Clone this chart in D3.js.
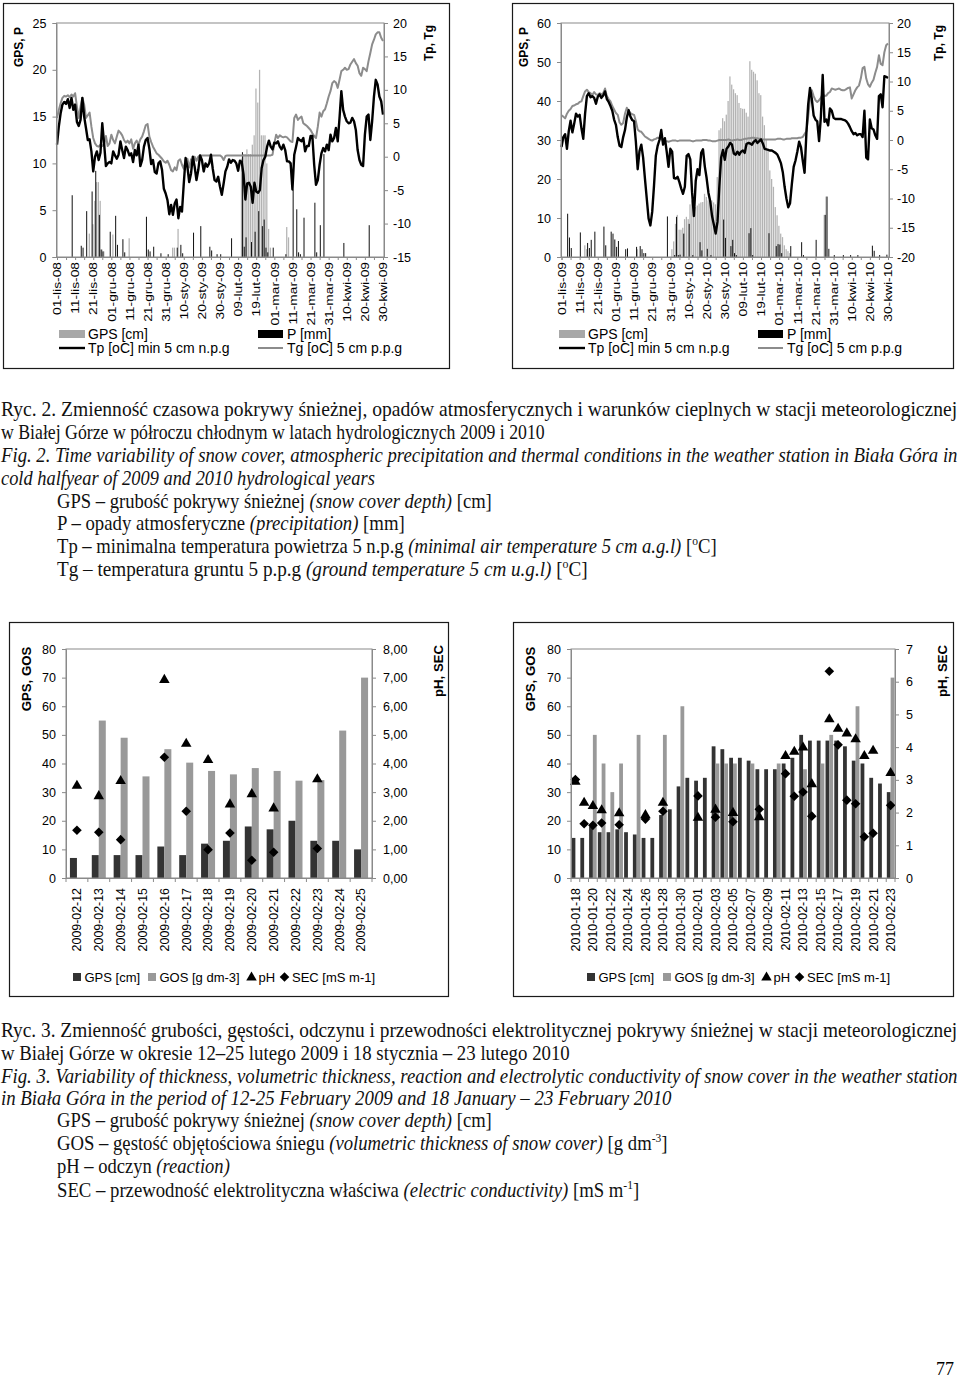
<!DOCTYPE html>
<html><head><meta charset="utf-8">
<script src="https://cdn.jsdelivr.net/npm/d3@7"></script>
<style>body{margin:0;background:#fff}svg{display:block}</style>
</head><body><svg id="page" width="960" height="1378"></svg>
<script>
// ---------------- DATA ----------------
const dateLabels09 = ["01-lis-08","11-lis-08","21-lis-08","01-gru-08","11-gru-08","21-gru-08","31-gru-08","10-sty-09","20-sty-09","30-sty-09","09-lut-09","19-lut-09","01-mar-09","11-mar-09","21-mar-09","31-mar-09","10-kwi-09","20-kwi-09","30-kwi-09"];
const dateLabels10 = ["01-lis-09","11-lis-09","21-lis-09","01-gru-09","11-gru-09","21-gru-09","31-gru-09","10-sty-10","20-sty-10","30-sty-10","09-lut-10","19-lut-10","01-mar-10","11-mar-10","21-mar-10","31-mar-10","10-kwi-10","20-kwi-10","30-kwi-10"];

// daily values, day 0 = 1 November ... day 180 = 30 April
const tp09 = [1.8,4.5,6.5,7.8,8.2,7.9,8.6,7.3,8.8,7.0,
 7.8,5.2,4.6,5.5,8.8,6.0,4.3,2.5,2.6,0.8,
 -2.2,0.0,0.8,-0.5,0.6,5.0,2.0,-1.4,-1.0,-0.8,
 -1.0,0.8,0.2,-0.3,0.3,2.3,1.0,-0.2,1.5,1.0,
 0.2,0.5,-0.8,1.0,0.2,1.8,-1.4,-0.5,1.5,2.5,
 2.8,1.2,-1.1,-0.5,-2.3,-2.5,-1.0,-0.7,-2.0,-4.8,
 -5.5,-6.5,-8.6,-7.2,-8.7,-7.0,-6.4,-9.2,-7.5,-8.2,
 -4.0,-0.2,-1.5,-3.8,-2.5,0.0,-1.5,-3.5,-2.0,0.2,
 -0.5,-2.2,-1.0,-1.5,-1.0,0.3,-1.8,-3.5,-3.7,-3.0,
 -4.5,-5.7,-4.0,-2.2,-1.5,-0.4,-0.9,-0.5,-0.6,-1.0,
 -2.1,-0.6,-0.8,-2.7,-6.4,-4.0,-3.9,-4.5,-6.9,-3.9,
 -5.2,-5.4,-5.0,-1.7,-0.5,0.0,1.5,2.4,1.5,1.1,
 2.1,2.0,2.3,1.5,1.1,1.8,1.0,-0.7,-0.7,-1.0,
 -4.9,0.3,1.5,2.8,2.5,2.3,2.8,0.8,1.6,1.6,
 3.1,3.1,-1.2,-4.2,-3.5,-1.2,0.5,1.3,0.8,1.8,
 1.0,3.3,2.3,2.8,4.3,2.3,5.8,9.8,7.0,6.0,
 5.3,5.0,5.1,5.8,5.3,4.0,1.0,-0.5,-1.2,-1.4,
 3.3,6.0,6.3,2.5,5.3,9.0,11.5,10.8,9.0,8.3,6.3];
const tg09 = [5.8,7.0,8.0,8.8,9.1,9.0,9.2,8.9,9.3,9.0,
 9.5,7.5,5.8,7.5,8.8,7.8,5.8,6.2,6.6,4.5,
 2.8,2.0,1.6,1.5,1.8,1.6,1.9,3.1,1.6,2.0,
 3.3,2.5,2.0,3.0,3.9,3.6,3.2,2.5,2.1,2.4,
 2.0,2.6,1.2,2.0,2.4,1.8,2.6,3.0,3.8,4.7,
 4.9,3.0,2.2,1.5,1.0,0.5,0.3,0.0,-0.3,-0.7,
 -0.9,-0.6,-1.2,-2.0,-2.2,-1.6,-2.0,-0.6,-0.4,-1.2,
 -1.8,-0.5,-0.3,-1.6,-0.4,-1.0,0.0,-0.6,0.0,0.2,
 0.2,0.2,0.2,0.2,0.2,0.2,0.2,0.2,0.2,0.2,
 0.2,0.0,-0.5,0.1,0.2,0.2,0.2,0.2,0.2,0.2,
 0.2,0.2,0.2,0.2,0.2,0.2,0.2,0.2,0.2,0.2,
 0.2,0.2,0.2,0.2,0.2,0.2,0.2,0.2,0.2,0.3,
 2.0,3.3,2.8,3.2,3.0,2.9,3.0,2.9,2.6,2.3,
 2.2,5.8,6.3,5.5,5.8,6.0,5.0,4.8,4.6,4.3,
 4.0,3.5,3.1,2.8,4.5,6.6,6.0,6.8,7.1,8.0,
 9.0,9.8,11.0,11.3,11.1,10.3,11.5,12.8,13.0,13.3,
 13.0,13.1,13.8,14.2,14.6,14.0,13.6,12.5,12.1,13.3,
 13.1,12.8,14.3,15.5,16.8,17.5,18.3,18.6,18.6,17.8,17.3];
// [day, value]
const gps09 = [[18,2.5],[20,3.5],[21,6.0],[22,8.0],[23,8.0],[24,6.0],[25,0.8],[26,0.6],[31,2.4],[40,2.0],[64,1.0],[65,1.0],[67,3.0],
 [102,10.5],[103,11],[104,11],[105,11.5],[106,11],[107,11],[108,12],[109,13],[110,18],[111,16.5],[112,20],[113,13],[114,13],[115,13],[116,10],[117,3],[118,1],[127,3.2],[128,2.1]];
const p09 = [[8,6.6],[13,1.2],[14,1.0],[16,4.9],[19,7.0],[21,9.2],[23,4.5],[24,0.8],[25,0.6],[29,2.7],[32,4.4],[33,1.3],[36,1.9],[37,0.5],[49,4.3],[50,0.8],[51,0.6],[53,1.1],[57,0.4],[61,0.3],[66,1.0],[68,1.3],[69,0.4],[75,2.6],[79,3.3],[84,1.1],[85,0.7],[88,0.3],[90,0.3],[96,2.0],
 [102,11.2],[103,1.1],[104,2.1],[107,1.6],[109,2.7],[111,4.9],[113,3.3],[114,4.0],[115,1.0],[116,0.5],[119,1.0],[126,0.3],[130,7.2],[132,5.1],[133,0.5],[134,0.3],[136,4.2],[142,5.8],[143,0.5],[145,3.4],[147,11.0],[158,1.5],[172,3.4]];

const tp10 = [-1.2,0.5,1.0,-1.5,1.5,3.3,1.3,2.8,4.5,4.0,
 4.3,2.0,0.2,4.5,7.5,8.0,7.3,7.5,7.2,6.2,
 7.4,7.8,7.2,7.6,8.3,7.0,6.5,5.8,5.0,3.5,
 2.6,0.5,-1.0,-1.2,0.5,1.7,3.8,5.1,4.0,3.4,
 3.2,-0.3,-5.0,-1.9,-0.8,-3.0,-6.6,-10.0,-13.4,-14.6,
 -12.3,-7.8,-2.7,-1.0,0.0,1.7,-0.8,0.3,-2.0,-4.6,
 -1.5,-2.0,-6.5,-6.6,-6.3,-7.2,-8.3,-9.2,-8.0,-2.7,
 -2.4,-3.3,-9.0,-13.0,-7.0,-5.0,-6.0,-2.2,-1.6,-4.5,
 -6.5,-9.0,-10.5,-13.0,-14.5,-16.0,-14.0,-8.0,-3.0,-1.7,
 -3.4,-1.5,-1.1,-0.5,-0.8,-2.3,-2.5,-2.0,-2.5,-2.0,
 -1.8,-2.2,-0.7,-0.5,-0.6,-0.8,-0.3,0.0,-0.5,-0.2,
 0.1,-0.6,-1.5,-1.6,-1.7,-1.8,-1.8,-2.0,-2.2,-2.5,
 -3.2,-4.0,-5.5,-8.0,-10.0,-11.5,-10.8,-7.5,-4.6,-3.5,
 -2.0,-0.3,-1.2,-3.5,-5.6,1.1,6.1,8.9,7.0,4.2,
 3.5,3.2,-0.2,4.0,11.1,3.1,3.5,2.5,5.4,5.0,
 3.8,3.6,3.6,3.6,3.6,3.5,3.4,3.2,2.8,2.2,
 1.5,1.0,1.2,0.8,1.0,1.0,0.5,5.0,-3.0,-3.3,
 3.5,2.0,1.8,0.8,0.2,7.5,7.8,5.6,10.9,10.8,10.6];
const tg10 = [4.2,4.0,3.7,4.5,5.0,5.3,5.8,5.9,6.1,6.2,
 6.5,6.6,7.5,8.3,8.6,8.2,8.0,7.7,8.2,7.8,
 7.7,8.0,7.8,8.0,8.8,7.5,7.0,6.6,5.8,5.2,
 4.6,4.3,3.0,2.6,2.9,4.5,5.5,5.0,4.6,4.4,
 4.3,3.2,1.8,1.5,1.4,1.0,0.6,0.4,0.2,0.0,
 -0.1,0.1,0.2,0.4,0.3,0.1,0.0,-0.2,-0.2,-0.3,
 -0.2,-0.1,-0.1,-0.1,-0.2,-0.1,-0.1,-0.1,-0.1,-0.1,
 -0.1,-0.1,-0.2,-0.2,-0.1,-0.1,-0.1,-0.1,0.0,0.0,
 0.0,-0.1,-0.1,-0.2,-0.2,-0.2,-0.1,0.0,0.0,0.0,
 0.0,0.0,0.1,0.0,-0.1,0.0,0.0,0.1,0.0,0.0,
 0.1,0.2,0.2,0.3,0.3,0.4,0.4,0.3,0.3,0.2,
 0.2,0.1,0.1,0.1,0.1,0.1,0.1,0.1,0.1,0.2,
 0.2,0.2,0.1,0.1,0.2,0.2,0.2,0.3,0.3,0.3,
 0.3,0.4,0.4,0.5,1.0,1.5,4.0,7.0,8.5,7.5,
 6.8,6.5,6.8,7.2,7.9,7.5,7.6,8.0,8.2,8.8,
 8.7,8.6,8.7,8.8,8.6,8.5,8.5,8.7,8.9,9.0,
 7.1,7.8,8.5,9.0,9.3,10.5,12.3,12.5,10.5,9.5,
 9.1,9.8,10.3,11.5,12.5,14.5,13.0,12.8,15.0,16.2,16.5];
const gps10 = [[13,3.0],[14,2.0],[42,2.0],[61,2],[62,4],[63,8.5],[64,10.8],[65,7],[66,7],[67,7.5],[68,9.7],[69,10.3],[70,9.7],[71,13.5],[72,14.5],[73,13.5],[74,12.8],[75,13.2],[76,13.7],[77,14],[78,14.1],[79,16.2],[80,15.4],[81,14.5],[82,15],[83,14.5],[84,14],[85,13.5],[86,20.5],[87,32.5],[88,33],[89,35.6],[90,34.8],[91,36.5],[92,40],[93,46.3],[94,44.2],[95,43],[96,42],[97,41.5],[98,39.5],[99,38.2],[100,38],[101,38],[102,37],[103,36],[104,50.2],[105,48],[106,47.5],[107,47],[108,45.3],[109,42],[110,41.5],[111,36],[112,33.8],[113,30],[114,27.4],[115,22.2],[116,20],[117,18],[118,12.8],[119,10.7],[120,8],[121,6],[122,5.1],[123,3],[124,2],[125,1.5],[126,1],[145,10.8],[146,15.5]];
const p10 = [[3,11.1],[4,5.0],[5,2.3],[10,6.3],[14,3.6],[15,2.3],[16,4.4],[18,6.5],[23,7.8],[24,3.0],[27,6.5],[28,6.0],[29,4.5],[30,2.6],[31,4.1],[35,2.0],[36,2.2],[41,2.6],[43,2.8],[44,2.0],[45,1.0],[46,1.0],[58,10.4],[62,0.5],[63,10.3],[64,0.5],[65,0.6],[67,6.0],[70,8.5],[72,0.5],[76,3.8],[77,1.7],[80,2.1],[82,0.5],[89,9.6],[90,4.9],[93,2.8],[94,4.4],[95,1.0],[96,0.5],[103,6.1],[104,7.4],[105,0.5],[114,6.1],[118,2.8],[119,3.3],[120,3.2],[121,1.0],[126,2.8],[132,3.8],[133,0.5],[140,4.4],[145,10.8],[146,15.5],[147,2.1],[150,0.5],[155,0.5],[159,0.5],[163,0.5],[171,2.9],[172,1.6],[175,0.5],[179,0.6]];

// Fig. 3 data
const cats09 = ["2009-02-12","2009-02-13","2009-02-14","2009-02-15","2009-02-16","2009-02-17","2009-02-18","2009-02-19","2009-02-20","2009-02-21","2009-02-22","2009-02-23","2009-02-24","2009-02-25"];
const gpsA = [7,8,8,8,11,8,12,13,18,17,20,13,13,10];
const gosA = [null,55,49,35.5,45,40.3,37.4,36.2,38.4,37.4,34,34.2,51.5,70];
const phA  = [3.22,2.86,3.39,null,6.92,4.69,4.12,2.57,2.93,2.43,null,3.45,null,null];
const secA = [1.67,1.60,1.34,null,4.22,2.33,0.99,1.57,0.62,0.90,null,1.03,null,null];

const cats10 = ["2010-01-18","2010-01-19","2010-01-20","2010-01-21","2010-01-22","2010-01-23","2010-01-24","2010-01-25","2010-01-26","2010-01-27","2010-01-28","2010-01-29","2010-01-30","2010-01-31",
 "2010-02-01","2010-02-02","2010-02-03","2010-02-04","2010-02-05","2010-02-06","2010-02-07","2010-02-08","2010-02-09","2010-02-10","2010-02-11","2010-02-12","2010-02-13","2010-02-14","2010-02-15","2010-02-16","2010-02-17","2010-02-18","2010-02-19","2010-02-20","2010-02-21","2010-02-22","2010-02-23"];
const gpsB = [14,14,18,16,16,17,16,15.2,14,14,22,24,32,35,34,35,46,45,42,42,41,38,38,38,40,42,50,48,48,48,48,46,41,40,35,33,30];
const gosB = [null,null,50,40,30,40,null,50,null,null,50,null,60,null,null,null,40,40,40,null,40,null,null,40,null,null,38,null,40,50,null,null,60,null,null,null,70];
const phB  = [2.94,2.30,2.20,2.07,null,1.98,null,null,1.92,null,2.30,null,null,null,1.84,null,2.09,null,1.99,null,null,1.86,null,null,3.73,3.86,3.99,2.87,null,4.85,4.56,4.42,4.24,3.73,3.89,null,3.21];
const secB = [3.01,1.66,1.61,1.68,null,1.63,null,null,1.80,null,2.04,null,null,null,2.51,null,1.86,null,1.72,null,null,2.10,null,null,3.19,2.50,2.63,1.89,null,6.32,4.07,2.38,2.27,1.26,1.37,null,2.22];

// ---------------- DRAWING ----------------
const svg = d3.select("#page");
const sans = '"Liberation Sans", Arial, sans-serif';
const serif = '"Liberation Serif", "Times New Roman", serif';
const AX = "#8a8a8a";

function styleAxis(sel, fs){
  sel.select(".domain").attr("stroke", AX);
  sel.selectAll(".tick line").attr("stroke", AX);
  sel.selectAll(".tick text").attr("fill", "#000").style("font-family", sans).style("font-size", fs + "px");
}
function frame(g, f){
  g.append("rect").attr("x", f[0] + 0.5).attr("y", f[1] + 0.5).attr("width", f[2] - f[0]).attr("height", f[3] - f[1])
   .attr("fill", "none").attr("stroke", "#1a1a1a").attr("stroke-width", 1.2);
}
function vtitle(g, txt, x, y, fs){
  g.append("text").attr("transform", `translate(${x},${y}) rotate(-90)`).attr("text-anchor", "middle")
   .style("font-family", sans).style("font-size", fs + "px").style("font-weight", "bold").text(txt);
}
function ltext(g, txt, x, y, fs){
  g.append("text").attr("x", x).attr("y", y).style("font-family", sans).style("font-size", fs + "px").text(txt);
}

function topChart(c){
  const g = svg.append("g");
  frame(g, c.frame);
  const top = 23, bot = 257;
  const x = d3.scaleLinear().domain([0, 180]).range([c.pl + 0.5, c.pr - 1]);
  const yL = d3.scaleLinear().domain(c.leftDom).range([bot, top]);
  const yR = d3.scaleLinear().domain(c.rightDom).range([bot, top]);
  g.append("g").selectAll("rect").data(c.gps).join("rect")
    .attr("x", d => x(d[0]) - 0.9).attr("width", 1.25)
    .attr("y", d => yL(d[1])).attr("height", d => yL(0) - yL(d[1])).attr("fill", "#b3b3b3");
  g.append("g").selectAll("rect").data(c.p).join("rect")
    .attr("x", d => x(d[0]) + 0.2).attr("width", 1.0)
    .attr("y", d => yL(d[1])).attr("height", d => yL(0) - yL(d[1])).attr("fill", "#111");
  const line = d3.line().x((d, i) => x(i)).y(d => yR(d));
  g.append("path").datum(c.tg).attr("d", line).attr("fill", "none").attr("stroke", "#8c8c8c").attr("stroke-width", 2).attr("stroke-linejoin", "round");
  g.append("path").datum(c.tp).attr("d", line).attr("fill", "none").attr("stroke", "#000").attr("stroke-width", 2.4).attr("stroke-linejoin", "round");
  g.append("rect").attr("x", c.pl).attr("y", top).attr("width", c.pr - c.pl).attr("height", bot - top).attr("fill", "none").attr("stroke", AX);
  const la = g.append("g").attr("transform", `translate(${c.pl},0)`)
    .call(d3.axisLeft(yL).tickValues(c.leftTicks).tickSize(4).tickPadding(c.lpad).tickFormat(d => String(d)));
  styleAxis(la, 12.5);
  const ra = g.append("g").attr("transform", `translate(${c.pr},0)`)
    .call(d3.axisRight(yR).tickValues(c.rightTicks).tickSize(4).tickPadding(c.rpad).tickFormat(d => String(d)));
  styleAxis(ra, 12.5);
  const xa = g.append("g").attr("transform", `translate(0,${bot})`)
    .call(d3.axisBottom(x).tickValues(d3.range(0, 181, 5)).tickSize(3).tickFormat(""));
  styleAxis(xa, 12);
  g.append("g").selectAll("text").data(c.labels).join("text")
    .attr("transform", (d, i) => `translate(${x(i * 10) + 4.2},262) rotate(-90) scale(1,0.85)`)
    .attr("text-anchor", "end").style("font-family", sans).style("font-size", "13.8px").text(d => d);
  vtitle(g, "GPS, P", c.ltx + 4.5, 47, 12);
  vtitle(g, "Tp, Tg", c.rtx + 4.5, 43, 12);
  // legend
  g.append("rect").attr("x", c.lg1).attr("y", 330).attr("width", 26).attr("height", 8).attr("fill", "#a8a8a8");
  ltext(g, "GPS [cm]", c.lg1 + 29, 339, 14);
  g.append("rect").attr("x", c.lg2).attr("y", 330).attr("width", 25).attr("height", 8).attr("fill", "#000");
  ltext(g, "P [mm]", c.lg2 + 29, 339, 14);
  g.append("line").attr("x1", c.lg1).attr("x2", c.lg1 + 26).attr("y1", 348).attr("y2", 348).attr("stroke", "#000").attr("stroke-width", 2.4);
  ltext(g, "Tp [oC] min 5 cm n.p.g", c.lg1 + 29, 353, 14);
  g.append("line").attr("x1", c.lg2).attr("x2", c.lg2 + 25).attr("y1", 348).attr("y2", 348).attr("stroke", "#8c8c8c").attr("stroke-width", 2);
  ltext(g, "Tg [oC] 5 cm p.p.g", c.lg2 + 29, 353, 14);
}

function snowChart(c){
  const g = svg.append("g");
  frame(g, c.frame);
  const top = 649, bot = 878;
  const x = d3.scaleBand().domain(c.cats).range([c.pl, c.pr]);
  const bw = x.bandwidth();
  const yL = d3.scaleLinear().domain([0, 80]).range([bot, top]);
  const yR = d3.scaleLinear().domain(c.rightDom).range([bot, top]);
  const cx = d => x(d) + bw / 2;
  const idx = c.cats.map((d, i) => i);
  g.append("g").selectAll("rect").data(idx.filter(i => c.gps[i] != null)).join("rect")
    .attr("x", i => cx(c.cats[i]) - c.barW).attr("width", c.barW)
    .attr("y", i => yL(c.gps[i])).attr("height", i => yL(0) - yL(c.gps[i])).attr("fill", "#333");
  g.append("g").selectAll("rect").data(idx.filter(i => c.gos[i] != null)).join("rect")
    .attr("x", i => cx(c.cats[i])).attr("width", c.barW)
    .attr("y", i => yL(c.gos[i])).attr("height", i => yL(0) - yL(c.gos[i])).attr("fill", "#999");
  g.append("rect").attr("x", c.pl).attr("y", top).attr("width", c.pr - c.pl).attr("height", bot - top).attr("fill", "none").attr("stroke", AX);
  const tri = d3.symbol().type(d3.symbolTriangle).size(48);
  const sq = d3.symbol().type(d3.symbolSquare).size(46);
  g.append("g").selectAll("path").data(idx.filter(i => c.ph[i] != null)).join("path")
    .attr("d", tri).attr("transform", i => `translate(${cx(c.cats[i])},${yR(c.ph[i])})`).attr("fill", "#000");
  g.append("g").selectAll("path").data(idx.filter(i => c.sec[i] != null)).join("path")
    .attr("d", sq).attr("transform", i => `translate(${cx(c.cats[i])},${yR(c.sec[i])}) rotate(45)`).attr("fill", "#000");
  const la = g.append("g").attr("transform", `translate(${c.pl},0)`)
    .call(d3.axisLeft(yL).tickValues(d3.range(0, 81, 10)).tickSize(4).tickPadding(c.lpad).tickFormat(d => String(d)));
  styleAxis(la, 12.5);
  const ra = g.append("g").attr("transform", `translate(${c.pr},0)`)
    .call(d3.axisRight(yR).tickValues(c.rightTicks).tickSize(4).tickPadding(c.rpad).tickFormat(c.rfmt));
  styleAxis(ra, 12.5);
  g.append("line").attr("x1", c.pl).attr("x2", c.pr).attr("y1", bot + 0.5).attr("y2", bot + 0.5).attr("stroke", AX);
  const bounds = c.cats.map(d => x(d)).concat([c.pr]);
  g.append("g").selectAll("line").data(bounds).join("line")
    .attr("x1", d => d).attr("x2", d => d).attr("y1", bot).attr("y2", bot + 4).attr("stroke", AX);
  g.append("g").selectAll("text").data(c.cats.filter((d, i) => i % c.every === 0)).join("text")
    .attr("transform", d => `translate(${cx(d) + 4.4},${bot + 10}) rotate(-90)`)
    .attr("text-anchor", "end").style("font-family", sans).style("font-size", "12.4px").text(d => d);
  vtitle(g, "GPS, GOS", c.ltx + 4.8, 679, 13.2);
  vtitle(g, "pH, SEC", c.rtx + 4.8, 671, 13.2);
  // legend
  const ly = 977;
  const L = c.leg;
  g.append("rect").attr("x", L[0]).attr("y", ly - 4).attr("width", 8).attr("height", 8).attr("fill", "#333");
  ltext(g, "GPS [cm]", L[0] + 11.5, ly + 4.6, 13);
  g.append("rect").attr("x", L[1]).attr("y", ly - 4).attr("width", 8).attr("height", 8).attr("fill", "#999");
  ltext(g, "GOS [g dm-3]", L[1] + 11.5, ly + 4.6, 13);
  g.append("path").attr("d", tri).attr("transform", `translate(${L[2] + 4.5},${ly + 0.5})`).attr("fill", "#000");
  ltext(g, "pH", L[2] + 11.5, ly + 4.6, 13);
  g.append("path").attr("d", sq).attr("transform", `translate(${L[3] + 4.5},${ly}) rotate(45)`).attr("fill", "#000");
  ltext(g, "SEC [mS m-1]", L[3] + 12, ly + 4.6, 13);
}

topChart({frame:[3,3,449,368], pl:56.5, pr:384, leftDom:[0,25], leftTicks:d3.range(0,26,5), rightDom:[-15,20], rightTicks:d3.range(-15,21,5),
  lpad:6, rpad:5, labels:dateLabels09, tp:tp09, tg:tg09, gps:gps09, p:p09, ltx:18, rtx:428, lg1:59, lg2:258});
topChart({frame:[512,3,953,368], pl:561, pr:889, leftDom:[0,60], leftTicks:d3.range(0,61,10), rightDom:[-20,20], rightTicks:d3.range(-20,21,5),
  lpad:6, rpad:4, labels:dateLabels10, tp:tp10, tg:tg10, gps:gps10, p:p10, ltx:523, rtx:938, lg1:559, lg2:758});

snowChart({frame:[9,622,448,996], pl:66, pr:372, cats:cats09, gps:gpsA, gos:gosA, ph:phA, sec:secA, barW:7,
  rightDom:[0,8], rightTicks:d3.range(0,9,1), rfmt:d => d.toFixed(2).replace(".", ","), lpad:6, rpad:7, every:1,
  ltx:26, rtx:438, leg:[73,148,247,280]});
snowChart({frame:[513,622,953,996], pl:571, pr:895, cats:cats10, gps:gpsB, gos:gosB, ph:phB, sec:secB, barW:3.8,
  rightDom:[0,7], rightTicks:d3.range(0,8,1), rfmt:d => String(d), lpad:6, rpad:7, every:2,
  ltx:530, rtx:942, leg:[587,663,762,795]});

// ---------------- CAPTIONS ----------------
const cap = [
 {x:1, y:409, w:957, s:[["Ryc. 2. Zmienność czasowa pokrywy śnieżnej, opadów atmosferycznych i warunków cieplnych w stacji meteorologicznej",0]]},
 {x:1, y:432, w:544, s:[["w Białej Górze w półroczu chłodnym w latach hydrologicznych 2009 i 2010",0]]},
 {x:1, y:455, w:957, s:[["Fig. 2. Time variability of snow cover, atmospheric precipitation and thermal conditions in the weather station in Biała Góra in",1]]},
 {x:1, y:478, w:374, s:[["cold halfyear of 2009 and 2010 hydrological years",1]]},
 {x:57, y:501, w:435, s:[["GPS – grubość pokrywy śnieżnej ",0],["(snow cover depth)",1],[" [cm]",0]]},
 {x:57, y:523, w:348, s:[["P – opady atmosferyczne ",0],["(precipitation)",1],[" [mm]",0]]},
 {x:57, y:546, w:660, s:[["Tp – minimalna temperatura powietrza 5 n.p.g ",0],["(minimal air temperature 5 cm a.g.l)",1],[" [",0],["o",2],["C]",0]]},
 {x:57, y:569, w:531, s:[["Tg – temperatura gruntu 5 p.p.g ",0],["(ground temperature 5 cm u.g.l)",1],[" [",0],["o",2],["C]",0]]},
 {x:1, y:1030, w:957, s:[["Ryc. 3. Zmienność grubości, gęstości, odczynu i przewodności elektrolitycznej pokrywy śnieżnej w stacji meteorologicznej",0]]},
 {x:1, y:1053, w:569, s:[["w Białej Górze w okresie 12–25 lutego 2009 i 18 stycznia – 23 lutego 2010",0]]},
 {x:1, y:1076, w:957, s:[["Fig. 3. Variability of thickness, volumetric thickness, reaction and electrolytic conductivity of snow cover in the weather station",1]]},
 {x:1, y:1098, w:671, s:[["in Biała Góra in the period of 12-25 February 2009 and 18 January – 23 February 2010",1]]},
 {x:57, y:1120, w:435, s:[["GPS – grubość pokrywy śnieżnej ",0],["(snow cover depth)",1],[" [cm]",0]]},
 {x:57, y:1143, w:611, s:[["GOS – gęstość objętościowa śniegu ",0],["(volumetric thickness of snow cover)",1],[" [g dm",0],["-3",2],["]",0]]},
 {x:57, y:1166, w:173, s:[["pH – odczyn ",0],["(reaction)",1]]},
 {x:57, y:1190, w:583, s:[["SEC – przewodność elektrolityczna właściwa ",0],["(electric conductivity)",1],[" [mS m",0],["-1",2],["]",0]]},
];
cap.forEach(L => {
  const t = svg.append("text").style("font-family", serif).style("font-size", "21px").attr("fill", "#111");
  let prevSup = false;
  L.s.forEach(seg => {
    const ts = t.append("tspan").text(seg[0]);
    if (seg[1] === 1) ts.style("font-style", "italic");
    if (seg[1] === 2) { ts.style("font-size", "13px").attr("dy", -8); prevSup = true; }
    else if (prevSup) { ts.attr("dy", 8); prevSup = false; }
  });
  const len = t.node().getComputedTextLength();
  t.attr("transform", `translate(${L.x},${L.y + 7}) scale(${L.w / len},1)`);
});
svg.append("text").attr("x", 954).attr("y", 1375).attr("text-anchor", "end")
  .style("font-family", serif).style("font-size", "18px").text("77");
</script></body></html>
